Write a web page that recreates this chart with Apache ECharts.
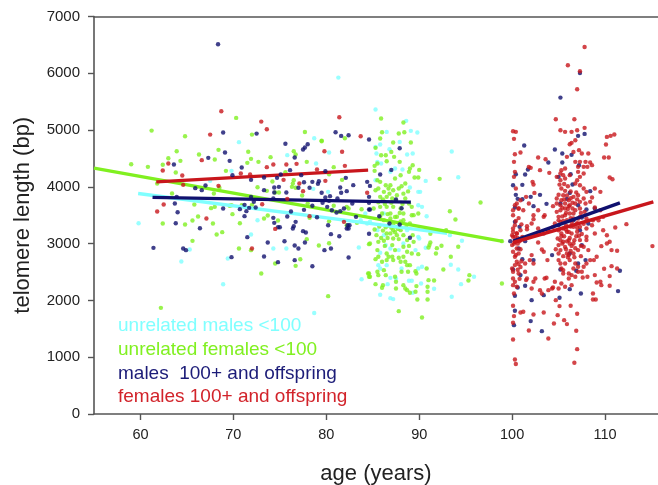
<!DOCTYPE html>
<html><head><meta charset="utf-8">
<style>html,body{margin:0;padding:0;background:#fff}#c{width:658px;height:485px;filter:blur(0.35px)}</style>
<script src="https://cdn.jsdelivr.net/npm/echarts@6/dist/echarts.min.js"></script>
</head><body><div id="c"></div>
<script>
const xTicks=[60,70,80,90,100,110];
const yTicks=[0,1000,2000,3000,4000,5000,6000,7000];
const legendLabels=['unrelated males <100','unrelated females <100','males  100+ and offspring','females 100+ and offspring'];
const xName='age (years)', yName='telomere length (bp)';
const unrelatedMales=[[70.6,4787],[80.3,4605],[75.8,4558],[78.9,4411],[69.8,4282],[67.5,4106],[78.6,3965],[80.2,3912],[59.8,3360],[72.6,3413],[71.9,3161],[65.3,2897],[74.3,2914],[75.7,2914],[83.5,2932],[69.4,2738],[64.4,2685],[68.9,2286],[83.8,2374],[78.7,1778],[81.3,5924],[78.7,4856],
[85.3,5362],[88.6,5162],[86.5,4968],[89.1,4986],[89.8,4957],[87.9,4792],[86.8,4663],[85.3,4704],[85.8,4745],[85.4,4587],[88.7,4569],[89.3,4587],[93.5,4622],[94.2,4170],[90.7,4105],[85.9,4411],[87.4,4323],[88.2,4305],[89.0,3988],[89.9,3912],[90.1,3912],[89.9,3677],[90.3,3648],[90.8,3483],[85.5,4440],[86.9,4264],[85.3,4117],[84.2,3530],
[90.0,3091],[90.7,2927],[94.6,3050],[93.3,3150],[93.4,2627],[94.2,2545],[95.9,2416],[94.5,2287],[93.5,2064],[85.8,2099],[86.9,2040],[87.2,2023],[86.6,2287],[86.9,2398],[87.5,2387],[88.9,2346],[89.2,2346],[90.2,2299],[89.3,2134],[91.6,2205],[90.3,2592],[89.9,2563],[88.1,2563],[85.8,2563],[85.6,2621],[85.8,2839],[86.9,2915],[87.8,2886],[86.4,2974],[86.5,2621],[86.2,3150],[85.5,3238],[88.3,3003],[89.6,2886],[83.7,3414],[84.4,3355],[84.7,3385],[86.2,3531],[89.9,3120],[88.7,3238]];
const unrelatedFemales=[[63.9,4628],[63.0,4505],[64.3,4458],[62.4,4388],[60.8,4352],[59.0,4399],[63.8,4253],[66.3,4570],[68.4,4652],[68.0,4482],[71.6,4617],[71.9,4493],[71.5,4423],[72.7,4440],[74.0,4523],[76.5,4628],[76.7,4570],[77.9,4440],[79.5,4804],[80.8,4347],[80.3,4223],[81.7,4123],[69.2,4282],[74.2,4094],[75.6,4258],[76.5,4118],[76.4,4059],[76.3,4000],[76.7,3983],[77.4,3848],[72.6,3994],[73.6,3930],[74.5,3900],[74.9,3900],[63.4,3883],[67.9,3883],[68.5,3983],[61.8,4059],[65.8,3689],[67.6,3625],[68.0,3648],[69.6,3666],[69.8,3677],[72.0,3683],[70.9,3677],[69.9,3519],[66.2,3478],[65.6,3407],[64.8,3337],[62.4,3355],[67.8,3355],[70.7,3360],[73.3,3443],[73.7,3495],[74.8,3407],[78.2,3454],[80.8,3666],[78.0,3707],[82.2,3648],[82.4,3619],[80.3,3396],[82.2,3325],[83.3,3366],[68.2,3161],[68.8,3202],[65.6,3049],[70.6,2914],[71.9,2885],[77.9,3079],[79.2,2967],[80.3,3008],[84.6,2991],[77.2,2726],[74.5,2650],[76.7,2609],[73.0,2474],[84.5,2474],[84.6,2415],[80.2,2075],[62.2,1869],[70.3,5214],[61.2,4991],[64.8,4891],[72.0,4920],[77.7,4967],[79.5,4815],[82.0,4856],
[85.9,5203],[88.3,5133],[86.0,4962],[87.8,4939],[88.4,4962],[89.1,4780],[87.2,4780],[85.3,4687],[85.8,4851],[87.0,4616],[85.9,4557],[86.4,4557],[87.3,4528],[87.9,4440],[85.2,4370],[85.5,4411],[86.5,4452],[85.2,4282],[89.0,4323],[89.3,4381],[90.0,4299],[88.9,4264],[89.5,4164],[89.9,4164],[92.2,4141],[96.6,3724],[93.3,3571],[93.9,3425],[87.4,4147],[88.0,4205],[85.5,4117],[85.8,4088],[86.4,4029],[86.9,4029],[88.1,4012],[88.5,4059],[85.6,3970],[86.2,3912],[86.7,3970],[87.2,3941],[87.8,3970],[85.3,3941],[86.5,3824],[85.8,3824],[87.6,3853],[87.1,3794],[88.5,3794],[88.9,3706],[89.2,3648],[89.9,3530],[83.8,3606],[85.8,3648],[86.5,3648],[87.2,3648],[88.0,3618],[85.1,3618],[86.0,3530],[86.9,3530],[88.3,3530],[89.2,3501],
[92.9,3238],[91.2,3173],[91.2,3021],[91.1,2974],[91.0,2933],[92.4,2962],[91.9,2921],[91.8,2827],[94.2,2944],[93.4,2768],[92.6,2545],[90.8,2563],[89.6,2516],[89.7,2475],[88.7,2621],[88.8,2504],[84.7,3003],[85.6,3032],[86.2,3050],[85.5,2886],[85.6,2768],[85.3,2727],[86.5,2827],[86.7,2768],[87.1,2768],[86.5,2710],[87.2,2710],[87.8,2751],[88.3,2768],[88.7,2856],[89.2,2827],[89.9,2815],[88.0,2680],[88.5,2680],[89.0,2621],[86.0,2680],[86.2,2533],[84.6,2475],[84.7,2416],[85.5,2504],[85.6,2445],[85.3,2287],[86.4,2445],[86.1,2269],[86.0,2222],[87.4,2416],[87.5,2328],[87.5,2211],[88.1,2504],[88.3,2269],[88.5,2211],[88.7,2181],[89.0,2134],[89.6,2152],[89.7,2252],[91.0,2357],[91.6,2351],[90.9,2240],[90.9,2152],[89.8,2017],[90.9,2017],[87.8,1811],[90.3,1700],[95.4,2445],[95.3,2351],[87.2,3238],[87.6,3150],[87.2,3091],[88.3,3150],[88.7,3062],[89.4,3032],[87.1,2974],[87.4,2886],[88.3,2944],[85.8,3473],[86.2,3414],[86.9,3443],[87.6,3473],[88.3,3414],[89.0,3355],[89.4,3502],[87.2,3355],[88.0,3238],[86.5,3179],[98.9,3044],[98.9,2299],
[86.7,3320],[87.0,3280],[87.4,3300],[87.7,3260],[86.4,3290],[86.9,3180],[87.4,3200],[87.8,3080],[86.6,3100],[86.1,3230],[85.7,3300],[85.4,3150],[88.6,3290],[88.0,3390],[87.4,3470],[86.6,3520],[87.9,3540],[86.3,3700],[87.0,3720],[87.5,3760],[88.2,3700],[85.6,3730],[86.1,3780],[86.8,3880],[88.3,3880],[88.8,3920],[85.9,3100],[86.3,2960],[88.9,2960],[89.3,3150],[85.2,3250]];
const males100=[[75.6,4760],[78.0,4750],[77.7,4693],[77.5,4658],[69.1,4605],[67.3,4511],[69.6,4458],[76.6,4517],[63.6,4393],[70.9,4341],[76.1,4294],[69.9,4206],[71.9,4123],[73.3,4165],[74.7,4159],[75.1,4217],[77.3,4206],[79.9,4276],[82.1,4159],[77.6,4082],[78.5,4088],[79.2,4100],[79.1,4053],[82.9,4030],[67.0,4024],[65.9,3977],[66.6,3942],[73.3,3942],[74.4,3988],[74.9,4000],[74.4,3900],[75.7,3900],[77.0,3983],[78.2,3983],[81.5,3988],[81.6,3895],[82.2,3924],[79.5,3895],[63.9,3824],[71.9,3824],[72.2,3736],[74.3,3795],[79.9,3812],[80.4,3836],[80.3,3754],[79.6,3718],[81.2,3795],[82.8,3707],[84.6,3824],[63.7,3707],[71.2,3683],[72.4,3636],[71.7,3630],[70.7,3607],[68.9,3619],[71.4,3572],[64.0,3554],[71.2,3484],[76.2,3566],[77.6,3595],[78.5,3666],[80.1,3648],[80.6,3589],[81.1,3548],[81.5,3572],[81.9,3619],[75.8,3478],[79.0,3466],[83.2,3472],[84.6,3601],[74.3,3454],[63.8,3360],[76.7,3384],[74.4,3366],[66.4,3272],[74.8,3290],[75.0,3290],[76.4,3266],[76.5,3308],[80.2,3325],[82.3,3325],[82.5,3325],[82.2,3266],[82.4,3266],[77.5,3220],[77.8,3196],[80.5,3167],[81.4,3131],[71.5,3114],[75.5,3043],[73.7,3020],[77.7,3020],[76.6,2967],[77.0,2914],[61.4,2926],[64.6,2914],[64.9,2885],[80.5,2914],[79.8,2885],[69.8,2762],[73.3,2773],[76.6,2709],[82.4,2756],[74.8,2674],[78.5,2603],[68.35,6511],[68.9,4956],[72.5,4938],[81.0,4962],[81.6,4897],[82.4,4909],
[84.6,4833],[87.9,4681],[85.8,4217],[87.0,4299],[84.4,4088],[84.7,4017],[87.5,3777],[84.6,3718],[88.1,3624],[84.7,3601],[85.7,3483],[86.8,3355],[87.9,3338],[89.0,3103],[84.6,3173],
[101.3,4728],[104.6,4657],[107.1,4898],[107.8,4933],[105.4,4587],[106.4,4564],[103.9,4429],[105.4,4429],[107.2,4382],[101.7,4305],[100.4,4223],[101.4,4217],[100.1,4029],[101.1,4035],[106.3,4223],[105.0,4176],[106.5,4041],[100.4,3859],[100.6,3789],[101.1,3783],[102.0,3824],[103.0,3859],[102.3,3660],[103.7,3701],[105.9,3789],[106.2,3894],[108.4,3924],[107.1,3677],[108.0,3601],[108.9,3618],[100.3,3636],[100.3,3384],[100.8,3296],[105.0,3325],[107.3,3237],[108.2,3354],[106.6,3413],[107.5,3460],[105.2,3707],
[99.8,3044],[100.3,3044],[101.4,3044],[100.7,2915],[104.3,2798],[101.1,2727],[102.3,2710],[100.1,2545],[100.9,2446],[105.2,2545],[106.2,2827],[107.1,2651],[107.9,2710],[106.9,2522],[111.6,2522],[111.4,2164],[101.4,2258],[100.6,2228],[100.3,2082],[102.1,2005],[103.4,2093],[105.1,2046],[106.2,2199],[107.4,2123],[100.3,1817],[102.0,1636],[100.2,1565],[103.2,1459],[107.5,2974],[107.3,6006],[105.2,5572]];
const females100=[[79.8,4628],[81.7,4617],[66.6,4470],[63.0,4411],[62.4,4288],[73.6,4347],[74.3,4393],[75.7,4393],[76.8,4405],[82.0,4370],[64.5,4200],[70.8,4235],[71.8,4217],[75.4,4123],[79.9,4106],[79.0,4305],[64.6,4035],[68.4,4018],[77.1,4059],[77.5,3924],[84.4,3895],[73.1,3695],[75.8,3789],[62.5,3689],[61.8,3566],[67.1,3443],[78.2,3484],[74.5,3260],[81.9,3384],[72.0,2914],[68.7,5331],[67.5,4920],[73.0,5149],[73.6,5014],[81.4,5226],[83.7,4891],
[100.1,4980],[100.4,4969],[100.2,4845],[105.2,4998],[105.7,4969],[106.4,4969],[107.0,4998],[107.8,5039],[110.2,4880],[110.6,4898],[111.0,4922],[110.1,4746],[100.3,4575],[100.9,4605],[100.2,4440],[102.8,4517],[103.6,4487],[109.9,4517],[110.4,4517],[101.8,4352],[102.0,4335],[103.0,4294],[100.3,4264],[104.0,4247],[106.4,4775],[106.2,4751],[106.8,4822],[106.6,4616],[107.2,4646],[107.5,4587],[108.2,4587],[105.9,4528],[105.3,4294],[105.7,4323],[105.2,4235],[105.5,4206],[104.8,4176],[105.2,4117],[105.7,4147],[106.2,4206],[106.8,4440],[107.3,4440],[107.9,4440],[108.4,4429],[108.6,4382],[107.1,4352],[107.7,4352],[108.1,4352],[107.1,4264],[107.7,4235],[107.3,4176],[107.0,4117],[106.8,4059],[107.3,4029],[110.5,4164],[110.8,4135],[102.2,4088],[102.3,4041],[100.2,4176],[100.4,3971],[102.4,3894],[101.5,3824],[101.8,3707],[100.5,3707],[100.7,3618],[100.3,3677],[100.9,3765],[101.2,3589],[102.8,3589],[102.3,3501],[103.5,3501],[103.4,3472],[102.3,3431],[101.6,3307],[101.6,3254],[102.1,3354],[102.8,3266],[104.6,3354],[105.5,3853],[105.3,3971],[105.3,3765],[104.8,3795],[104.8,3707],[105.2,3677],[105.7,3707],[106.1,3765],[106.6,3824],[107.1,3853],[107.7,3795],[107.3,3736],[106.8,3707],[106.2,3677],[105.7,3618],[105.2,3589],[104.8,3560],[107.7,3971],[108.0,3912],[108.9,3971],[109.5,3912],[108.6,3812],[108.4,3736],[107.9,3707],[104.4,3660],[105.0,3472],[105.7,3501],[106.2,3530],[106.8,3589],[107.3,3618],[107.8,3560],[108.9,3636],[109.5,3589],[109.8,3472],[108.7,3413],[109.3,3413],[108.0,3442],[107.3,3472],[106.6,3442],[105.9,3413],[105.2,3384],[104.4,3296],[105.0,3237],[105.5,3266],[106.1,3207],[106.6,3296],[107.3,3296],[108.0,3266],[108.6,3325],[111.1,3284],[112.3,3343],[110.2,3149],[100.1,3589],[100.1,3501],[100.3,3325],[100.1,3266],[100.5,3178],[100.9,3237],[100.0,3149],[100.3,3120],[103.9,3225],[103.4,3178],
[100.1,3209],[100.5,3179],[100.1,3121],[100.3,3033],[100.0,2974],[100.5,2915],[100.1,2856],[100.7,2827],[100.3,2768],[100.5,2680],[100.3,2622],[100.0,2563],[100.1,2504],[100.7,2475],[101.4,2504],[100.1,2387],[100.3,2328],[100.1,2269],[100.5,2240],[100.2,2123],[102.8,3021],[103.2,2898],[103.4,2856],[102.1,2798],[101.9,2710],[102.3,2651],[101.4,2651],[103.8,2710],[101.6,2387],[101.5,2358],[102.3,2328],[102.5,2387],[103.5,2387],[103.7,2399],[102.1,2211],[103.0,2181],[103.2,2123],[103.9,2181],[104.3,2211],[104.4,2228],[105.0,2211],[105.7,2240],[104.6,2328],[105.3,2299],[106.1,2387],[106.4,2446],[107.1,2504],[107.5,2504],[105.5,2475],[106.1,2475],[105.3,2563],[105.5,2534],[106.6,2563],[105.2,2651],[105.0,2710],[105.7,2651],[106.2,2710],[106.8,2651],[107.1,2592],[107.7,2592],[108.0,2651],[108.4,2710],[108.8,2710],[109.1,2768],[105.0,2827],[105.2,2886],[105.9,2827],[106.6,2827],[107.1,2886],[107.7,2945],[105.0,2974],[105.5,3033],[106.1,3062],[106.6,3003],[107.3,3062],[108.0,3121],[105.3,3179],[105.9,3209],[106.4,3179],[107.0,3209],[108.0,3062],[108.9,3179],[109.6,2956],[110.2,3003],[110.5,3033],[110.7,2886],[111.3,2874],[108.2,2886],[109.9,2557],[110.7,2604],[111.3,2563],[108.9,2446],[109.5,2328],[109.1,2316],[109.6,2269],[110.5,2428],[110.5,2258],[108.1,2416],[107.6,2404],[106.8,2416],[106.4,2269],[108.7,2123],[108.7,2017],[109.0,2017],[104.7,2005],[106.3,1905],[105.1,1900],[101.2,1800],[100.9,1788],[100.1,1905],[100.2,1724],[100.1,1606],[102.3,1753],[103.4,1788],[104.9,1741],[105.6,1653],[105.9,1583],[107.0,1765],[104.5,1594],[101.8,1471],[106.9,1465],[103.9,1330],[100.1,1313],[107.0,1142],[100.3,960],[100.4,880],[106.7,902],[107.8,6464],[106.0,6141],[107.3,6036],[107.0,5719],[104.7,5190],[106.7,5190],[115.1,2957],[109.8,3236],
[105.6,3130],[106.2,3100],[106.9,3130],[107.5,3170],[105.4,3000],[106.4,2960],[107.4,2960],[105.8,2900],[106.3,2870],[105.5,2780],[106.0,2760],[106.7,2760],[107.4,2780],[106.3,3300],[105.8,3320],[107.0,3360],[107.7,3350],[105.5,3400],[106.3,3450],[105.8,3540],[106.6,3530],[107.4,3540],[105.4,3480],[104.9,3090],[104.7,2900],[100.4,3400],[100.7,3450],[100.6,3100],[100.8,3040],[100.2,3000],[100.7,2640],[100.9,2590],[100.6,2540],[100.9,2900],[101.1,3120],[106.0,3610],[106.5,3620],[105.9,3850],[106.3,3920],[105.7,3930],[106.9,3900],[105.0,3860],[106.0,4010],[105.6,4050],[105.1,4040],
[105.3,3130],[105.9,3040],[106.2,3000],[106.7,3060],[107.2,3140],[105.2,3060],[105.7,2940],[106.8,2920],[106.1,2800],[107.0,3280],[105.8,3250],[106.4,3380],[107.1,3440],[105.0,3410],[106.1,3660],[106.5,3720],[105.4,3630],[107.0,3780],[105.6,3780],[106.3,3800],[101.0,3340],[100.6,3000],[100.4,2800],[101.0,2690],[100.8,2380],[100.7,3620]];
const trendUnrelatedMales=[[59.75,3884],[93,3180]];
const trendUnrelatedFemales=[[55,4330],[99,3040]];
const trendMalesOld=[[61.3,3814],[89.1,3731]];
const trendFemalesOld=[[61.7,4088],[84.5,4294]];
const trendMales100=[[100.1,3045],[111.6,3719]];
const trendFemales100=[[100.1,3020],[115.2,3737]];
const CY='#80ffff',GR='#80f020',NV='#10106e',RD='#c8161c';
const dots=(d,c,z)=>({type:'scatter',data:d,symbolSize:4.4,itemStyle:{color:c},z,silent:true,animation:false});
const line=(d,c,z)=>({type:'line',data:d,symbol:'none',lineStyle:{color:c,width:3.4},z,silent:true,animation:false});
const axisCol='#555';
const chart=echarts.init(document.getElementById('c'),null,{renderer:'canvas'});
chart.setOption({
 animation:false,backgroundColor:'#fff',
 grid:{left:94,right:0,top:16.5,bottom:71,outerBoundsMode:'none'},
 xAxis:[{type:'value',min:55,max:115.7,position:'bottom',name:xName,nameLocation:'middle',nameGap:49,
   nameTextStyle:{fontFamily:'Liberation Sans',fontSize:22,color:'#222'},
   axisLine:{onZero:false,lineStyle:{color:axisCol,width:1.6}},
   axisTick:{show:true,length:6,customValues:xTicks,lineStyle:{color:axisCol,width:1.4}},
   axisLabel:{customValues:xTicks,margin:13,fontFamily:'Liberation Sans',fontSize:14.5,color:'#222'},splitLine:{show:false}},
  {type:'value',min:55,max:115.7,position:'top',axisLine:{show:true,onZero:false,lineStyle:{color:axisCol,width:1.6}},axisTick:{show:false},axisLabel:{show:false},splitLine:{show:false}}],
 yAxis:{type:'value',min:0,max:7000,interval:1000,name:yName,nameLocation:'middle',nameGap:60,
   nameTextStyle:{fontFamily:'Liberation Sans',fontSize:22,color:'#222'},
   axisLine:{show:true,onZero:false,lineStyle:{color:axisCol,width:1.6}},
   axisTick:{show:true,length:6,lineStyle:{color:axisCol,width:1.4}},
   axisLabel:{margin:14,fontFamily:'Liberation Sans',fontSize:15,color:'#222',formatter:v=>yTicks.includes(v)?String(v):''},splitLine:{show:false}},
 graphic:[CY,GR,NV,RD].map((c,i)=>({type:'text',left:118,top:316.5+i*23.7,z:50,style:{text:legendLabels[i],fill:i==2?'#1c1c78':i==3?'#d2232a':c,font:'19px "Liberation Sans"'}})),
 series:[dots(unrelatedMales,CY,2),dots(unrelatedFemales,GR,3),
  line(trendUnrelatedMales,CY,4),line(trendUnrelatedFemales,GR,5),line(trendMalesOld,NV,6),line(trendFemalesOld,RD,6),
  dots(males100,NV,7),dots(females100,RD,8),
  line(trendMales100,NV,9),line(trendFemales100,RD,10)]
});
</script></body></html>
